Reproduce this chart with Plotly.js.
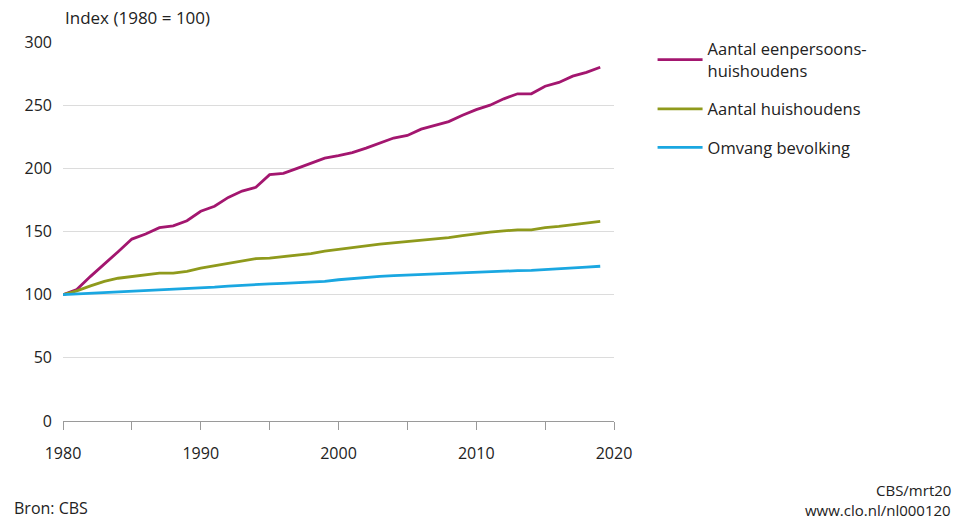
<!DOCTYPE html>
<html>
<head>
<meta charset="utf-8">
<script src="https://cdn.plot.ly/plotly-3.0.1.min.js"></script>
<style>html,body{margin:0;padding:0;background:#fff;}#chart{width:955px;height:519px;}</style>
</head>
<body>
<div id="chart"></div>
<script>
const years = [1980,1981,1982,1983,1984,1985,1986,1987,1988,1989,1990,1991,1992,1993,1994,1995,1996,1997,1998,1999,2000,2001,2002,2003,2004,2005,2006,2007,2008,2009,2010,2011,2012,2013,2014,2015,2016,2017,2018,2019];
const eenpersoons = [100,104,114.5,124,134,144,148,153,154.5,158.5,166,170,177,182,185,195,196,200,204,208,210,212.5,216,220,224,226,231,234,237,242,246.5,250,255,259,259,265,268,273,276,280];
const huishoudens = [100,103,107,110.5,113,114.5,116,117,117,118.5,121,123,125,127,128.5,129,130,131,132.5,134.5,135.7,137,138.6,140,141,142.3,143.4,144.2,145.2,146.8,148.4,149.5,150.5,151.3,151.3,153,154,155.3,156.6,158];
const bevolking = [100,100.5,101,101.5,102,102.5,103,103.5,104,104.7,105.3,106,106.8,107.5,108,108.6,109,109.5,110,110.5,111.8,112.8,113.8,114.5,115.1,115.6,115.9,116.2,116.6,117.2,117.7,118.3,118.7,119,119.3,119.8,120.4,121.2,121.8,122.5];
const seriesNames = ["Aantal eenpersoons-<br>huishoudens","Aantal huishoudens","Omvang bevolking"];
const xTicks = [1980,1990,2000,2010,2020];
const yTicks = [0,50,100,150,200,250,300];

const font = "'Open Sans', 'DejaVu Sans', sans-serif";
const colors = ["#a3166f","#8f9a1c","#1aa7e1"];
const vals = [eenpersoons, huishoudens, bevolking];
const traces = vals.map((v,i)=>({
  x: years, y: v, type:'scatter', mode:'lines', name: seriesNames[i],
  legendgroup: 'g'+i,
  line:{color:colors[i], width:2.8}
}));

const layout = {
  width:955, height:519,
  margin:{l:63, r:341, t:42, b:98},
  paper_bgcolor:'#fff', plot_bgcolor:'#fff',
  font:{family:font, size:16, color:'#222'},
  showlegend:true,
  legend:{x:1.07, y:1.027, xanchor:'left', yanchor:'top', font:{size:16.5, color:'#222'}, tracegroupgap:14, itemwidth:45, bgcolor:'rgba(0,0,0,0)'},
  xaxis:{range:[1980,2020], tickvals:xTicks, ticktext:xTicks.map(String), showgrid:false, zeroline:false,
    showline:true, linecolor:'#9a9a9a', linewidth:1, ticks:'outside', ticklen:8, tickcolor:'#9a9a9a',
    minor:{tickvals:[1985,1995,2005,2015], ticks:'outside', ticklen:8, tickcolor:'#9a9a9a'},
    ticklabelstandoff:10, tickfont:{size:16}, fixedrange:true},
  yaxis:{range:[0,300], tickvals:yTicks, ticktext:yTicks.map(String), showgrid:true, gridcolor:'#dcdcdc', gridwidth:1.2,
    zeroline:false, showline:false, ticks:'', ticklabelstandoff:10, tickfont:{size:16}, fixedrange:true},
  annotations:[
    {text:'Index (1980 = 100)', xref:'paper', yref:'paper', x:0, y:1.03, xanchor:'left', yanchor:'bottom', showarrow:false, font:{size:17}},
    {text:'Bron: CBS', xref:'paper', yref:'paper', x:-0.093, y:-0.23, xanchor:'left', yanchor:'middle', showarrow:false, font:{size:16}},
    {text:'CBS/mrt20', xref:'paper', yref:'paper', x:1.615, y:-0.182, xanchor:'right', yanchor:'middle', showarrow:false, font:{size:15}},
    {text:'www.clo.nl/nl000120', xref:'paper', yref:'paper', x:1.615, y:-0.235, xanchor:'right', yanchor:'middle', showarrow:false, font:{size:15}}
  ]
};
Plotly.newPlot('chart', traces, layout, {displayModeBar:false, staticPlot:true});
</script>
</body>
</html>
